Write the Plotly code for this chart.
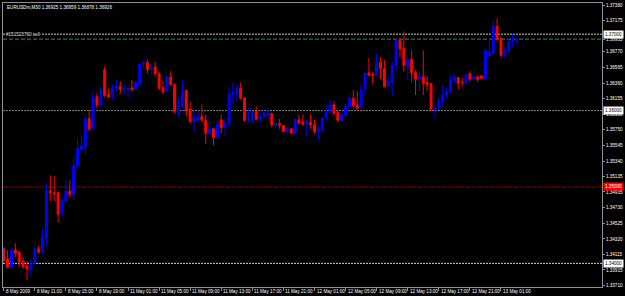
import plotly.graph_objects as go

# ---- data (EURUSDm, M30) ----
bar_index = list(range(133))
opens = [1.34191,1.34061,1.33952,1.34178,1.34147,1.34030,1.33970,1.33918,1.33996,1.34191,
         1.34147,1.34321,1.34948,1.34926,1.34926,1.34645,1.34818,1.34948,1.34905,1.35273,
         1.35490,1.35532,1.35892,1.35762,1.36182,1.36074,1.36536,1.36212,1.36195,1.36290,
         1.36312,1.36277,1.36277,1.36299,1.36281,1.36342,1.36610,1.36627,1.36549,1.36571,
         1.36484,1.36299,1.36256,1.36438,1.36342,1.35987,1.36052,1.36264,1.36022,1.35857,
         1.35874,1.35922,1.35870,1.35705,1.35762,1.35649,1.35879,1.35779,1.35822,1.36212,
         1.36225,1.36290,1.36169,1.35870,1.35870,1.35987,1.35887,1.35922,1.35944,1.35965,
         1.35814,1.35835,1.35805,1.35727,1.35762,1.35705,1.35879,1.35857,1.35822,1.35848,
         1.35814,1.35727,1.35736,1.35900,1.35987,1.36074,1.35978,1.35874,1.35935,1.36052,
         1.36160,1.36074,1.36039,1.36277,1.36494,1.36481,1.36464,1.36627,1.36549,1.36325,
         1.36377,1.36593,1.36918,1.36818,1.36584,1.36671,1.36497,1.36412,1.36442,1.36368,
         1.36355,1.36009,1.36022,1.36126,1.36195,1.36238,1.36390,1.36433,1.36370,1.36364,
         1.36484,1.36412,1.36442,1.36455,1.36420,1.36723,1.36744,1.37104,1.36948,1.36723,
         1.36775,1.36905,1.36925]
highs = [1.34212,1.34169,1.34191,1.34264,1.34169,1.34082,1.34030,1.34061,1.34212,1.34234,
         1.34451,1.35035,1.35152,1.35143,1.34948,1.34840,1.35087,1.35087,1.35381,1.35640,
         1.35684,1.35952,1.36009,1.36269,1.36225,1.36312,1.36580,1.36290,1.36342,1.36412,
         1.36386,1.36342,1.36290,1.36399,1.36386,1.36610,1.36658,1.36671,1.36601,1.36636,
         1.36515,1.36386,1.36464,1.36515,1.36355,1.36169,1.36399,1.36264,1.36117,1.36009,
         1.35996,1.36082,1.35952,1.35866,1.35779,1.35879,1.35952,1.35909,1.36312,1.36368,
         1.36355,1.36368,1.36169,1.36039,1.35996,1.36052,1.35974,1.36030,1.36009,1.35965,
         1.35857,1.35892,1.35805,1.35792,1.35762,1.35892,1.35944,1.35952,1.35879,1.35952,
         1.35879,1.35792,1.35909,1.36065,1.36139,1.36126,1.36009,1.35965,1.36095,1.36212,
         1.36269,1.36256,1.36342,1.36497,1.36688,1.36506,1.36744,1.36701,1.36658,1.36442,
         1.36636,1.36939,1.36948,1.37035,1.36723,1.36788,1.36529,1.36529,1.36788,1.36455,
         1.36355,1.36074,1.36182,1.36325,1.36299,1.36464,1.36471,1.36442,1.36429,1.36497,
         1.36515,1.36455,1.36455,1.36464,1.36788,1.36939,1.37178,1.37208,1.36948,1.36831,
         1.36948,1.37004,1.36959]
lows = [1.34017,1.33931,1.33931,1.34082,1.33952,1.33931,1.33779,1.33844,1.33987,1.34126,
        1.34126,1.34234,1.34818,1.34818,1.34536,1.34623,1.34796,1.34861,1.34827,1.35251,
        1.35477,1.35425,1.35727,1.35750,1.36030,1.36052,1.36182,1.36160,1.36152,1.36247,
        1.36225,1.36212,1.36169,1.36247,1.36269,1.36334,1.36549,1.36484,1.36484,1.36442,
        1.36281,1.36212,1.36247,1.36334,1.35965,1.35909,1.36030,1.35922,1.35835,1.35718,
        1.35857,1.35857,1.35562,1.35684,1.35545,1.35606,1.35705,1.35662,1.35814,1.36082,
        1.36117,1.36152,1.35857,1.35848,1.35835,1.35879,1.35835,1.35900,1.35900,1.35779,
        1.35762,1.35762,1.35718,1.35684,1.35692,1.35705,1.35822,1.35805,1.35662,1.35762,
        1.35705,1.35606,1.35727,1.35879,1.35965,1.35944,1.35848,1.35857,1.35892,1.36039,
        1.36039,1.36022,1.36030,1.36204,1.36458,1.36342,1.36455,1.36412,1.36312,1.36312,
        1.36204,1.36515,1.36701,1.36506,1.36399,1.36368,1.36204,1.36247,1.36204,1.36256,
        1.36009,1.35900,1.36022,1.36074,1.36160,1.36225,1.36355,1.36281,1.36312,1.36355,
        1.36377,1.36399,1.36377,1.36412,1.36412,1.36723,1.36744,1.36931,1.36701,1.36688,
        1.36766,1.36831,1.36878]
closes = [1.34039,1.33952,1.34178,1.34134,1.34017,1.33952,1.33926,1.33996,1.34191,1.34147,
          1.34342,1.34948,1.34922,1.34913,1.34645,1.34827,1.34948,1.34905,1.35286,1.35503,
          1.35545,1.35892,1.35762,1.36182,1.36074,1.36269,1.36195,1.36182,1.36303,1.36325,
          1.36277,1.36290,1.36290,1.36277,1.36368,1.36610,1.36627,1.36541,1.36567,1.36484,
          1.36290,1.36247,1.36438,1.36342,1.35987,1.36065,1.36256,1.35996,1.35857,1.35913,
          1.35922,1.35874,1.35705,1.35762,1.35649,1.35822,1.35779,1.35835,1.36225,1.36238,
          1.36290,1.36160,1.35870,1.35887,1.35987,1.35887,1.35922,1.35965,1.35965,1.35814,
          1.35835,1.35805,1.35727,1.35762,1.35705,1.35879,1.35835,1.35822,1.35857,1.35814,
          1.35727,1.35762,1.35909,1.35996,1.36074,1.35965,1.35874,1.35944,1.36052,1.36160,
          1.36065,1.36030,1.36269,1.36494,1.36458,1.36458,1.36627,1.36549,1.36312,1.36377,
          1.36593,1.36918,1.36809,1.36593,1.36666,1.36497,1.36412,1.36442,1.36355,1.36342,
          1.36009,1.36030,1.36139,1.36204,1.36247,1.36399,1.36433,1.36355,1.36366,1.36464,
          1.36412,1.36442,1.36412,1.36420,1.36788,1.36757,1.37104,1.36939,1.36723,1.36788,
          1.36905,1.36939,1.36926]

date_tick_index = [0, 8, 16, 24, 32, 40, 48, 56, 64, 72, 80, 88, 96, 104, 112, 120, 128]
date_tick_labels = ["8 May 2009", "8 May 11:00", "8 May 15:00", "8 May 19:00",
                    "11 May 01:00", "11 May 05:00", "11 May 09:00", "11 May 13:00",
                    "11 May 17:00", "11 May 21:00", "12 May 01:00", "12 May 05:00",
                    "12 May 09:00", "12 May 13:00", "12 May 17:00", "12 May 21:00",
                    "13 May 01:00"]

price_tick_values = [1.33710, 1.33915, 1.34115, 1.34320, 1.34525, 1.34730, 1.34935,
                     1.35135, 1.35340, 1.35545, 1.35750, 1.35950, 1.36155, 1.36360,
                     1.36565, 1.36770, 1.36935, 1.37175, 1.37380]
price_tick_labels = ["%.5f" % v for v in price_tick_values]

level_prices = [1.37000, 1.36000, 1.35000, 1.34000]
level_colors = ["#C8C8C8", "#808080", "#A00000", "#D0D0D0"]
level_box_bg = ["#FFFFFF", "#FFFFFF", "#FF0000", "#FFFFFF"]
level_box_fg = ["#000000", "#000000", "#FFFFFF", "#000000"]
order_price = 1.36935
order_label = "#151523760 sell"
title_text = "EURUSDm,M30 1.36925 1.36959 1.36878 1.36926"

FONT = "Liberation Sans"
FS = 4.6

fig = go.Figure()
fig.add_trace(go.Candlestick(
    x=bar_index, open=opens, high=highs, low=lows, close=closes,
    increasing=dict(line=dict(color="#0000FF", width=1), fillcolor="#0000FF"),
    decreasing=dict(line=dict(color="#FF0000", width=1), fillcolor="#FF0000"),
    whiskerwidth=0, hoverinfo="skip", showlegend=False,
))

shapes = []
for p, c in zip(level_prices, level_colors):
    shapes.append(dict(type="line", xref="paper", x0=0, x1=1, yref="y", y0=p, y1=p,
                       line=dict(color=c, width=1, dash="2px,1px"), layer="below"))
shapes.append(dict(type="line", xref="paper", x0=0, x1=1, yref="y", y0=order_price, y1=order_price,
                   line=dict(color="#2E9A2E", width=1, dash="4px,2px"), layer="below"))

annotations = []
for p, bg, fg in zip(level_prices, level_box_bg, level_box_fg):
    annotations.append(dict(xref="paper", x=1, xanchor="left", xshift=1, yref="y", y=p,
                            yanchor="middle", text="%.5f" % p, showarrow=False,
                            bgcolor=bg, borderpad=1,
                            font=dict(family=FONT, size=FS, color=fg)))
for idx, lab in zip(date_tick_index, date_tick_labels):
    annotations.append(dict(xref="x", x=idx, xanchor="left", xshift=0, yref="paper", y=0,
                            yanchor="middle", yshift=-4, text=lab, showarrow=False,
                            font=dict(family=FONT, size=FS, color="#FFFFFF")))
annotations.append(dict(xref="paper", x=0, xanchor="left", xshift=2, yref="paper", y=1,
                        yanchor="middle", yshift=-4, text=title_text, showarrow=False,
                        font=dict(family=FONT, size=FS, color="#FFFFFF")))
annotations.append(dict(xref="paper", x=0, xanchor="left", xshift=2, yref="y", y=1.37000,
                        yanchor="middle", text=order_label, showarrow=False, bgcolor="#000000",
                        borderpad=0, font=dict(family=FONT, size=FS, color="#E0E0E0")))

fig.update_layout(
    width=625, height=296,
    margin=dict(l=2, r=20, t=2, b=9),
    paper_bgcolor="#000000", plot_bgcolor="#000000",
    showlegend=False,
    shapes=shapes, annotations=annotations,
    xaxis=dict(range=[-0.18, 154.0], showgrid=False, zeroline=False,
               tickvals=date_tick_index, ticks="outside", ticklen=3, tickcolor="#909090",
               showticklabels=False, showline=True, linecolor="#909090", linewidth=1,
               mirror=True, rangeslider=dict(visible=False)),
    yaxis=dict(side="right", range=[1.33691, 1.37408], showgrid=False, zeroline=False,
               tickvals=price_tick_values, ticktext=price_tick_labels,
               ticks="outside", ticklen=2, tickcolor="#909090",
               tickfont=dict(family=FONT, size=FS, color="#FFFFFF"),
               showline=True, linecolor="#909090", linewidth=1, mirror=True),
    hovermode=False,
)

fig.write_html("out.html")
